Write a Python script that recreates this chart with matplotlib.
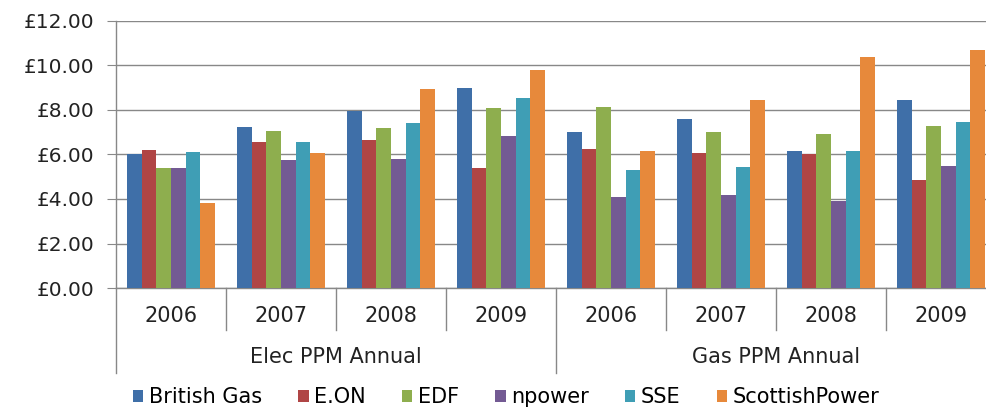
import numpy as np
import matplotlib
matplotlib.use("Agg")
import matplotlib.pyplot as plt
from matplotlib.ticker import FuncFormatter
import matplotlib.transforms as mtransforms

years = ["2006", "2007", "2008", "2009", "2006", "2007", "2008", "2009"]
groups = ["Elec PPM Annual", "Gas PPM Annual"]
suppliers = ["British Gas", "E.ON", "EDF", "npower", "SSE", "ScottishPower"]
british_gas = [6.00, 7.24, 7.97, 8.98, 7.00, 7.61, 6.14, 8.47]
eon = [6.19, 6.58, 6.67, 5.39, 6.23, 6.05, 6.00, 4.85]
edf = [5.39, 7.04, 7.19, 8.09, 8.12, 7.00, 6.94, 7.28]
npower = [5.39, 5.77, 5.81, 6.82, 4.10, 4.16, 3.92, 5.50]
sse = [6.10, 6.58, 7.42, 8.56, 5.29, 5.44, 6.14, 7.46]
scottish = [3.84, 6.05, 8.93, 9.79, 6.14, 8.47, 10.36, 10.69]
series = [british_gas, eon, edf, npower, sse, scottish]
colors = ["#3F6FA8", "#B04545", "#8EAE4E", "#735A93", "#3F9EB5", "#E7893B"]

fig = plt.figure(figsize=(9.86, 4.07), dpi=100)
ax = fig.add_axes([116/986, 1-288/407, 880/986, 267/407])

x = np.arange(len(years))
w = 1/7.5
for j, (vals, c) in enumerate(zip(series, colors)):
    ax.bar(x + (j-2.5)*w, vals, width=w, color=c, label=suppliers[j], zorder=3)

ax.set_xlim(-0.5, 7.5)
ax.set_ylim(0, 12)
ax.set_yticks(np.arange(0, 13, 2))
ax.yaxis.set_major_formatter(FuncFormatter(lambda v, p: f"£{v:.2f}"))
ax.tick_params(axis="y", length=6.5, color="#888888", labelsize=14.5, pad=9, labelcolor="#222222")
ax.grid(axis="y", color="#888888", linewidth=1, zorder=0)
ax.set_xticks([])
for s in ["top", "right"]:
    ax.spines[s].set_visible(False)
for s in ["left", "bottom"]:
    ax.spines[s].set_color("#888888")
    ax.spines[s].set_linewidth(1)

trans = mtransforms.blended_transform_factory(ax.transData, fig.transFigure)
y0 = 1-288/407
for i, yr in enumerate(years):
    ax.text(i, 1-316/407, yr, transform=trans, ha="center", va="center", fontsize=15, color="#222222")
for b in np.arange(-0.5, 8, 1):
    long = b in (-0.5, 3.5, 7.5)
    ax.plot([b, b], [y0, 1-(373 if long else 330)/407], transform=trans, color="#888888",
            linewidth=1, clip_on=False)
for k, g in enumerate(groups):
    ax.text(1.5 + 4*k, 1-357/407, g, transform=trans, ha="center", va="center", fontsize=15, color="#222222")

fig.legend(loc="center", bbox_to_anchor=(506/986, 1-397/407), ncol=6, frameon=False, fontsize=15,
           handlelength=0.5, handleheight=0.5, handletextpad=0.25, columnspacing=1.75, borderpad=0)

fig.savefig("out.png", dpi=100)
